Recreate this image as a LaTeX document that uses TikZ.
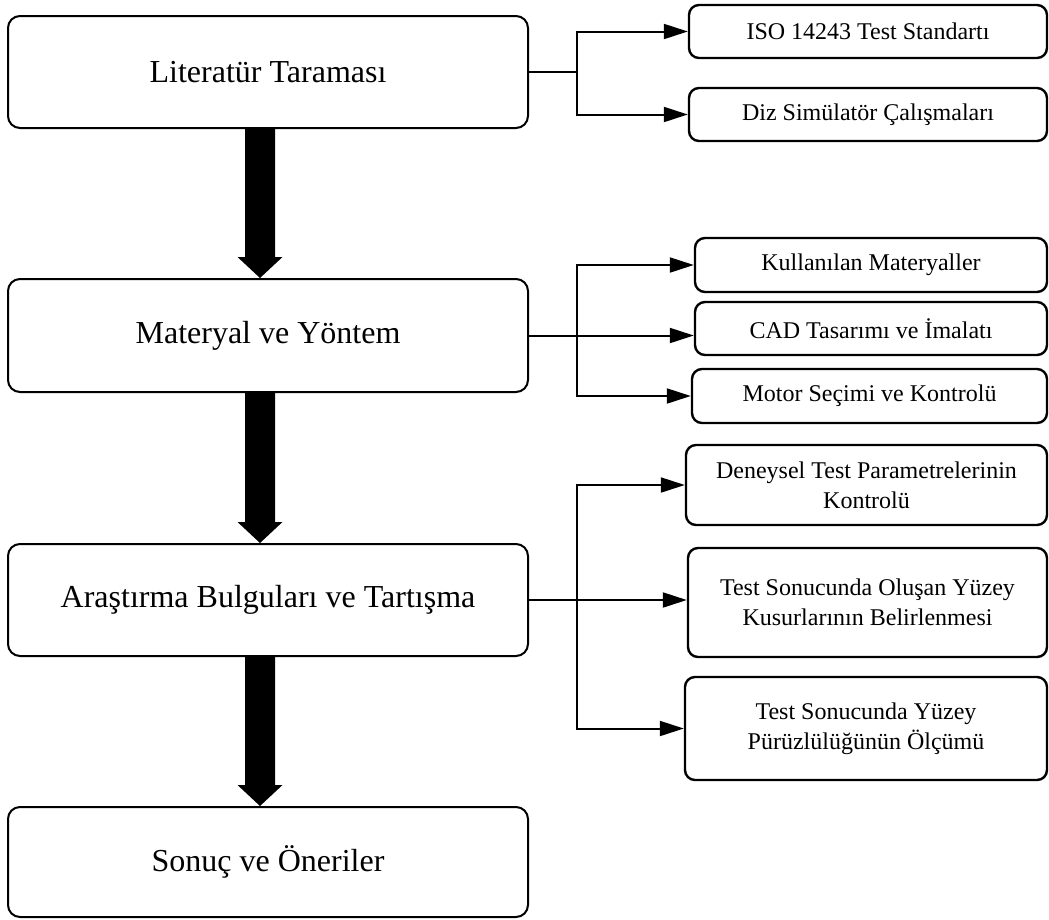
\documentclass[tikz,border=0pt]{standalone}
\usepackage{fontspec}
\setmainfont{Liberation Serif}
\usetikzlibrary{arrows.meta,calc}
\newcommand\myBigArrow[2]{%
  \fill[black] ($(#1.south -| ax)+(-15,0)$) -- ($(#1.south -| ax)+(15,0)$)
    -- ($(#2.north -| ax)+(15,-21)$) -- ($(#2.north -| ax)+(22.5,-21)$)
    -- (#2.north -| ax) -- ($(#2.north -| ax)+(-22.5,-21)$)
    -- ($(#2.north -| ax)+(-15,-21)$) -- cycle;}
\begin{document}
\begin{tikzpicture}[x=1pt,y=-1pt,
  mainbox/.style={draw=black, line width=2pt, rounded corners=12pt, inner sep=0pt,
    font=\fontsize{32}{37}\selectfont, align=center},
  subbox/.style={draw=black, line width=2.4pt, rounded corners=10pt, inner sep=0pt,
    font=\fontsize{24}{30}\selectfont, align=center},
  conn/.style={line width=2pt},
  arr/.style={conn, -{Triangle[length=24pt,width=15pt]}}]
\useasboundingbox (0,0) rectangle (1049,919);
\fill[white] (0,0) rectangle (1049,919);

% main column
\node[mainbox, minimum width=520pt, minimum height=112pt] (b1) at (268,72) {Literatür Taraması};
\node[mainbox, minimum width=520pt, minimum height=113pt] (b2) at (268,335.5) {Materyal ve Yöntem};
\node[mainbox, minimum width=520pt, minimum height=112pt] (b3) at (268,600) {Araştırma Bulguları ve Tartışma};
\node[mainbox, minimum width=520pt, minimum height=110pt] (b4) at (268,862) {Sonuç ve Öneriler};

% right column
\node[subbox, minimum width=358pt, minimum height=53pt] (iso) at (868,31.5) {ISO 14243 Test Standartı};
\node[subbox, minimum width=358pt, minimum height=53pt] (diz) at (868,114.5) {Diz Simülatör Çalışmaları};
\node[subbox, minimum width=352pt, minimum height=54pt] (kul) at (871,265) {Kullanılan Materyaller};
\node[subbox, minimum width=352pt, minimum height=53pt] (cad) at (871,328.5) {CAD Tasarımı ve İmalatı};
\node[subbox, minimum width=355pt, minimum height=54pt] (mot) at (869.5,396) {Motor Seçimi ve Kontrolü};
\node[subbox, minimum width=361pt, minimum height=80pt] (den) at (866.5,485) {Deneysel Test Parametrelerinin\\Kontrolü};
\node[subbox, minimum width=359pt, minimum height=109pt] (olu) at (867.5,602.5) {Test Sonucunda Oluşan Yüzey\\Kusurlarının Belirlenmesi};
\node[subbox, minimum width=362pt, minimum height=103pt] (yuz) at (866,728.5) {Test Sonucunda Yüzey\\Pürüzlülüğünün Ölçümü};

\coordinate (ax) at (260,0);
\coordinate (j) at (577,0);

% big arrows
\myBigArrow{b1}{b2}
\myBigArrow{b2}{b3}
\myBigArrow{b3}{b4}

% branch 1
\draw[conn] (b1.east) -- (b1.east -| j);
\draw[arr] (b1.east -| j) |- (iso.west);
\draw[arr] (b1.east -| j) |- (diz.west);

% branch 2
\draw[arr] (b2.east) -- (b2.east -| cad.west);
\draw[arr] (b2.east -| j) |- (kul.west);
\draw[arr] (b2.east -| j) |- (mot.west);

% branch 3
\draw[arr] (b3.east) -- (b3.east -| olu.west);
\draw[arr] (b3.east -| j) |- (den.west);
\draw[arr] (b3.east -| j) |- (yuz.west);
\end{tikzpicture}
\end{document}
